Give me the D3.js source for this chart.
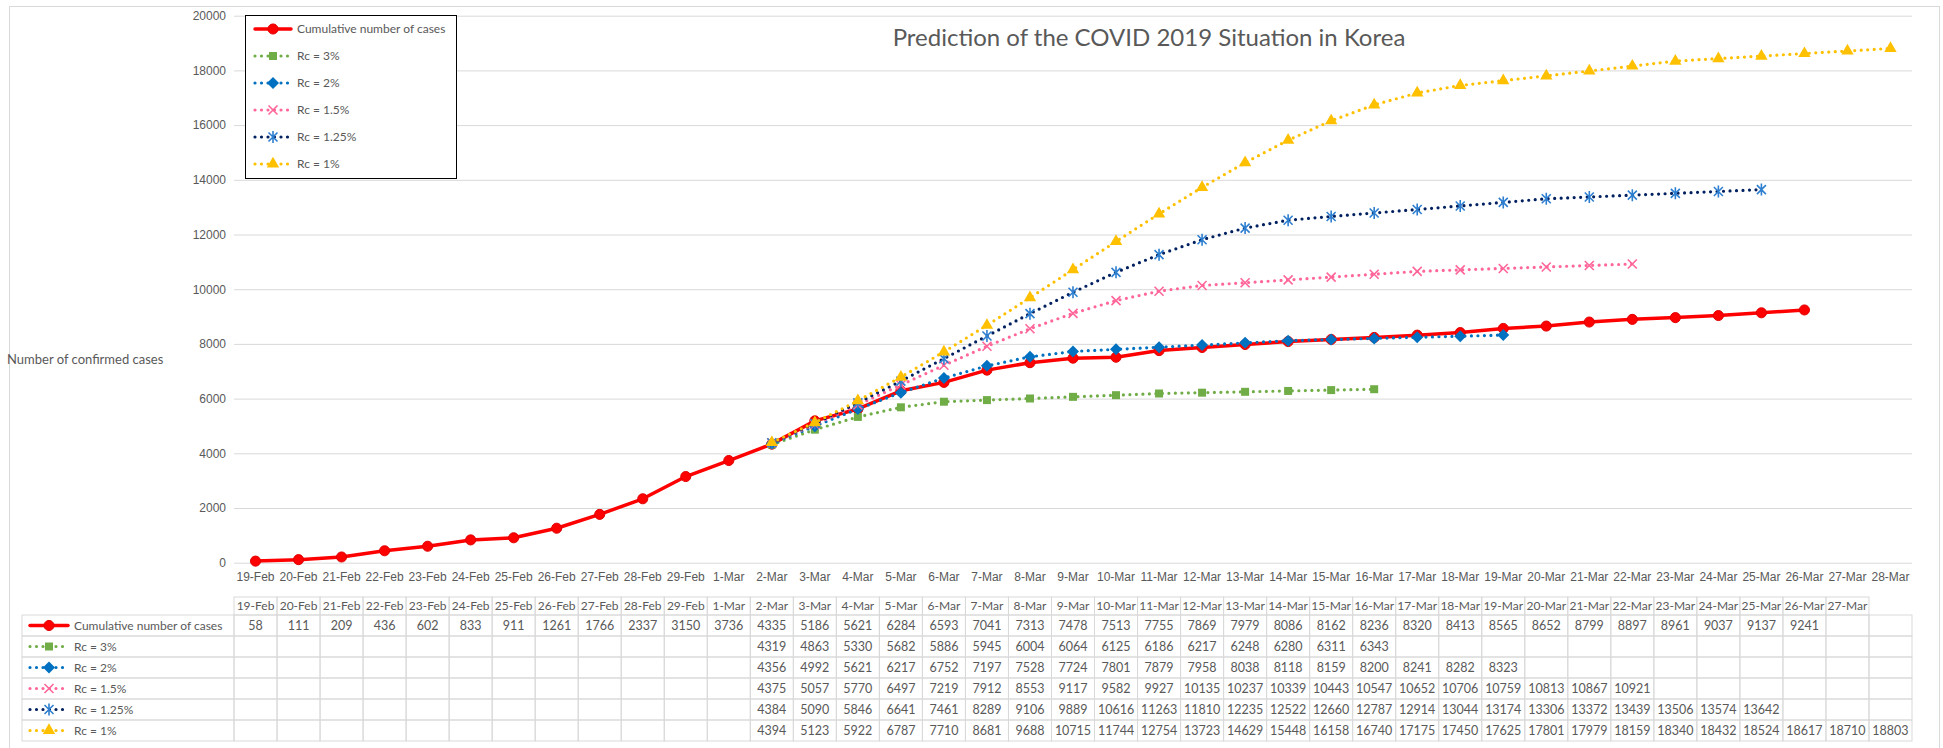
<!DOCTYPE html>
<html lang="en">
<head>
    <meta charset="UTF-8">
    <title>Prediction of the COVID 2019 Situation in Korea</title>
    <script src="https://d3js.org/d3.v7.min.js"></script>
    <style>
        body { margin: 0; background: #fff; }
        svg { display: block; font-family: Lato, "Open Sans", sans-serif; }
    </style>
</head>
<body>
<div id="chart"></div>

<script>
    // categories (19-Feb .. 28-Mar)
    const dates = ["19-Feb", "20-Feb", "21-Feb", "22-Feb", "23-Feb", "24-Feb", "25-Feb", "26-Feb", "27-Feb", "28-Feb", "29-Feb",
        "1-Mar", "2-Mar", "3-Mar", "4-Mar", "5-Mar", "6-Mar", "7-Mar", "8-Mar", "9-Mar", "10-Mar", "11-Mar", "12-Mar", "13-Mar",
        "14-Mar", "15-Mar", "16-Mar", "17-Mar", "18-Mar", "19-Mar", "20-Mar", "21-Mar", "22-Mar", "23-Mar", "24-Mar", "25-Mar",
        "26-Mar", "27-Mar", "28-Mar"];
    // the data table header stops at 27-Mar
    const tableHeader = dates.slice(0, 38);
    const yTicks = [0, 2000, 4000, 6000, 8000, 10000, 12000, 14000, 16000, 18000, 20000];

    const cumulative = [58, 111, 209, 436, 602, 833, 911, 1261, 1766, 2337, 3150, 3736, 4335, 5186, 5621, 6284, 6593, 7041,
        7313, 7478, 7513, 7755, 7869, 7979, 8086, 8162, 8236, 8320, 8413, 8565, 8652, 8799, 8897, 8961, 9037, 9137, 9241];
    // predictions all start on 2-Mar
    const rc3 = [4319, 4863, 5330, 5682, 5886, 5945, 6004, 6064, 6125, 6186, 6217, 6248, 6280, 6311, 6343];
    const rc2 = [4356, 4992, 5621, 6217, 6752, 7197, 7528, 7724, 7801, 7879, 7958, 8038, 8118, 8159, 8200, 8241, 8282, 8323];
    const rc15 = [4375, 5057, 5770, 6497, 7219, 7912, 8553, 9117, 9582, 9927, 10135, 10237, 10339, 10443, 10547, 10652,
        10706, 10759, 10813, 10867, 10921];
    const rc125 = [4384, 5090, 5846, 6641, 7461, 8289, 9106, 9889, 10616, 11263, 11810, 12235, 12522, 12660, 12787, 12914,
        13044, 13174, 13306, 13372, 13439, 13506, 13574, 13642];
    const rc1 = [4394, 5123, 5922, 6787, 7710, 8681, 9688, 10715, 11744, 12754, 13723, 14629, 15448, 16158, 16740, 17175,
        17450, 17625, 17801, 17979, 18159, 18340, 18432, 18524, 18617, 18710, 18803];

    const series = [
        {name: "Cumulative number of cases", start: "19-Feb", values: cumulative},
        {name: "Rc = 3%", start: "2-Mar", values: rc3},
        {name: "Rc = 2%", start: "2-Mar", values: rc2},
        {name: "Rc = 1.5%", start: "2-Mar", values: rc15},
        {name: "Rc = 1.25%", start: "2-Mar", values: rc125},
        {name: "Rc = 1%", start: "2-Mar", values: rc1}
    ];

    const styles = {
        "Cumulative number of cases": {color: "#ff0000", dotted: false, marker: "circle", fill: "#ff0000", stroke: "#e00000"},
        "Rc = 3%": {color: "#70ad47", dotted: true, marker: "square", fill: "#70ad47", stroke: "none"},
        "Rc = 2%": {color: "#0070c0", dotted: true, marker: "diamond", fill: "#0070c0", stroke: "none"},
        "Rc = 1.5%": {color: "#ff6699", dotted: true, marker: "cross", fill: "none", stroke: "#ff6699"},
        "Rc = 1.25%": {color: "#002060", dotted: true, marker: "star", fill: "none", stroke: "#2e7fd0"},
        "Rc = 1%": {color: "#ffc000", dotted: true, marker: "triangle", fill: "#ffc000", stroke: "none"}
    };

    const markerPath = {
        circle: d3.symbol(d3.symbolCircle, 80)(),
        square: d3.symbol(d3.symbolSquare, 64)(),
        diamond: "M0,-6L6,0L0,6L-6,0Z",
        triangle: d3.symbol(d3.symbolTriangle, 66)(),
        cross: "M-4.5,-4.5L4.5,4.5M-4.5,4.5L4.5,-4.5",
        star: "M-4.5,-4.5L4.5,4.5M-4.5,4.5L4.5,-4.5M0,-6L0,6"
    };

    const width = 1943, height = 748;
    const plotLeft = 234, plotRight = 1912;
    const textColor = "#595959", gridColor = "#d9d9d9";

    const svg = d3.select("#chart").append("svg")
        .attr("width", width)
        .attr("height", height);

    // chart area border
    svg.append("rect")
        .attr("x", 9.5).attr("y", 6.5)
        .attr("width", 1930).attr("height", 760)
        .attr("fill", "#fff").attr("stroke", gridColor);

    const x = d3.scaleBand().domain(dates).range([plotLeft, plotRight]);
    const y = d3.scaleLinear().domain([0, 20000]).range([562.7, 15.7]);
    const cx = d => x(d) + x.bandwidth() / 2;

    // y axis with gridlines
    const yAxis = svg.append("g")
        .attr("transform", `translate(${plotLeft},0)`)
        .call(d3.axisLeft(y).tickValues(yTicks).tickFormat(d3.format("d"))
            .tickSize(-(plotRight - plotLeft)).tickPadding(8));
    yAxis.select(".domain").remove();
    yAxis.selectAll("line").attr("stroke", gridColor);
    yAxis.selectAll("text").attr("fill", textColor).attr("font-size", 12).attr("font-family", null);

    // x axis labels
    const xAxis = svg.append("g")
        .attr("transform", `translate(0,${y(0)})`)
        .call(d3.axisBottom(x).tickSize(0).tickPadding(10));
    xAxis.select(".domain").remove();
    xAxis.selectAll("text").attr("fill", textColor).attr("font-size", 12).attr("font-family", null);

    svg.append("text")
        .attr("x", 1149).attr("y", 46)
        .attr("text-anchor", "middle")
        .attr("font-size", 24)
        .attr("fill", textColor)
        .text("Prediction of the COVID 2019 Situation in Korea");

    svg.append("text")
        .attr("x", 7).attr("y", 364)
        .attr("font-size", 13)
        .attr("fill", textColor)
        .text("Number of confirmed cases");

    function points(s) {
        const i0 = dates.indexOf(s.start);
        return s.values.map((v, i) => ({date: dates[i0 + i], value: v}));
    }

    function drawMarker(g, st, px, py) {
        g.append("path")
            .attr("d", markerPath[st.marker])
            .attr("transform", `translate(${px},${py})`)
            .attr("fill", st.fill)
            .attr("stroke", st.stroke)
            .attr("stroke-width", st.marker === "circle" ? 1 : 1.6);
    }

    function styleLine(sel, st) {
        sel.attr("fill", "none")
            .attr("stroke", st.color)
            .attr("stroke-linecap", "round")
            .attr("stroke-linejoin", "round")
            .attr("stroke-width", st.dotted ? 3.2 : 3.5)
            .attr("stroke-dasharray", st.dotted ? "0 6.5" : null);
    }

    const line = d3.line().x(d => cx(d.date)).y(d => y(d.value));

    series.forEach(s => {
        const st = styles[s.name];
        const g = svg.append("g");
        g.append("path").datum(points(s)).attr("d", line).call(styleLine, st);
        points(s).forEach(p => drawMarker(g, st, cx(p.date), y(p.value)));
    });

    // small legend sample: line with a marker in the middle
    function drawSample(g, st, x1, x2, py) {
        g.append("line")
            .attr("x1", x1).attr("x2", x2).attr("y1", py).attr("y2", py)
            .call(styleLine, st);
        drawMarker(g, st, (x1 + x2) / 2, py);
    }

    // legend
    const legend = svg.append("g");
    legend.append("rect")
        .attr("x", 245.5).attr("y", 15.5)
        .attr("width", 211).attr("height", 163)
        .attr("fill", "#fff").attr("stroke", "#000");
    series.forEach((s, i) => {
        const py = 29 + i * 27;
        drawSample(legend, styles[s.name], 255, 291, py);
        legend.append("text")
            .attr("x", 297).attr("y", py).attr("dy", "0.35em")
            .attr("font-size", 12).attr("fill", textColor)
            .text(s.name);
    });

    // data table
    const table = svg.append("g");
    const headTop = 597, headH = 18, rowTop = 615, rowH = 21, labelLeft = 22;

    table.selectAll(".head").data(tableHeader).join("g")
        .each(function (d) {
            const c = d3.select(this);
            c.append("rect").attr("x", x(d)).attr("y", headTop)
                .attr("width", x.bandwidth()).attr("height", headH)
                .attr("fill", "none").attr("stroke", gridColor);
            c.append("text").attr("x", cx(d)).attr("y", headTop + headH / 2).attr("dy", "0.35em")
                .attr("text-anchor", "middle").attr("font-size", 12).attr("fill", textColor).text(d);
        });

    series.forEach((s, r) => {
        const ry = rowTop + r * rowH;
        const st = styles[s.name];
        table.append("rect").attr("x", labelLeft).attr("y", ry)
            .attr("width", plotLeft - labelLeft).attr("height", rowH)
            .attr("fill", "none").attr("stroke", gridColor);
        drawSample(table, st, 30, 68, ry + rowH / 2);
        table.append("text").attr("x", 74).attr("y", ry + rowH / 2).attr("dy", "0.35em")
            .attr("font-size", 12).attr("fill", textColor).text(s.name);

        const byDate = new Map(points(s).map(p => [p.date, p.value]));
        dates.forEach(d => {
            table.append("rect").attr("x", x(d)).attr("y", ry)
                .attr("width", x.bandwidth()).attr("height", rowH)
                .attr("fill", "none").attr("stroke", gridColor);
            if (byDate.has(d)) {
                table.append("text").attr("x", cx(d)).attr("y", ry + rowH / 2).attr("dy", "0.35em")
                    .attr("text-anchor", "middle").attr("font-size", 12.5).attr("fill", textColor)
                    .text(byDate.get(d));
            }
        });
    });
</script>
</body>
</html>
